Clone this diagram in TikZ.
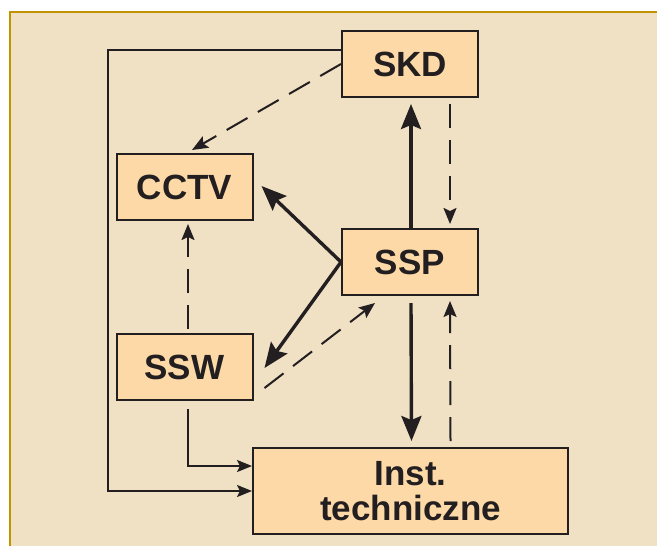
\documentclass[tikz,border=0pt]{standalone}
\usepackage{fontspec}
\setmainfont{Liberation Sans}
\usepackage{tikz}
\usetikzlibrary{arrows.meta}
\definecolor{bgcream}{HTML}{F0E1C5}
\definecolor{boxfill}{HTML}{FDD9A8}
\definecolor{framegold}{HTML}{C29200}
\definecolor{inkdark}{HTML}{231F20}
\tikzstyle{mybox} = [draw=inkdark, fill=boxfill, line width=1pt, minimum width=68pt, minimum height=33pt, inner sep=0pt, text=inkdark, font=\fontsize{17.5}{17.5}\selectfont\bfseries]
\tikzstyle{thickarrow} = [draw=inkdark, line width=1.7pt, -{Stealth[length=12.5pt,width=10pt,inset=2pt]}]
\tikzstyle{thinarrow} = [draw=inkdark, line width=1pt, -{Stealth[length=7.5pt,width=6pt,inset=1.5pt]}]
\tikzstyle{dasharrow} = [draw=inkdark, line width=1pt, dash pattern=on 12pt off 6pt, -{Stealth[length=8pt,width=6.5pt,inset=1.5pt]}]

\begin{document}
\begin{tikzpicture}[x=0.5pt, y=-0.5pt]

        % Background
        \useasboundingbox (0,0) rectangle (657,546);
        \fill[bgcream] (10,12) rectangle (657,546);
        \draw[framegold, line width=0.7pt] (10,546) -- (10,12) -- (657,12);

        % Boxes
        \node[mybox] (skd) at (410,64) {SKD};
        \node[mybox] (cctv) at (184.5,187) {CCTV};
        \node[mybox] (ssp) at (410,262) {SSP};
        \node[mybox] (ssw) at (184.5,367) {SSW};
        \node[mybox, minimum width=157.5pt, minimum height=43pt, align=center] (inst) at (410.5,491) {Inst.\\techniczne};

        % Solid connections
        \coordinate (lft) at (108,50);
        \draw[thinarrow] ([yshift=7pt]skd.west) -- (lft) |- (inst.west);
        \draw[thinarrow] ([xshift=1.75pt,yshift=-4pt]ssw.south) |- ([yshift=12.5pt]inst.west);

        \draw[thickarrow] ([xshift=0.5pt]ssp.north) -- ([xshift=0.5pt,yshift=-3pt]skd.south);
        \draw[thickarrow] ([xshift=0.5pt,yshift=-3.5pt]ssp.south) -- ([xshift=0.5pt,yshift=3pt]inst.north);
        \draw[thickarrow] (ssp.west) -- ([xshift=4pt,yshift=0.5pt]cctv.east);
        \draw[thickarrow] (ssp.west) -- ([xshift=5.5pt,yshift=-0.5pt]ssw.east);

        % Dashed connections
        \draw[dasharrow] (skd.west) -- ([xshift=3.75pt,yshift=1.5pt]cctv.north);
        \draw[dasharrow] ([xshift=20pt,yshift=-3pt]skd.south) -- ([xshift=20pt,yshift=2pt]ssp.north);
        \draw[dasharrow] ([xshift=20pt,yshift=3pt]inst.north) -- ([xshift=20pt,yshift=-2.5pt]ssp.south);
        \draw[dasharrow] ([xshift=5.5pt,yshift=-10.5pt]ssw.east) -- ([xshift=-17.5pt,yshift=-3.5pt]ssp.south);
        \draw[dasharrow] ([xshift=1.75pt,yshift=2pt]ssw.north) -- ([xshift=1.75pt,yshift=-1.5pt]cctv.south);

\end{tikzpicture}
\end{document}
